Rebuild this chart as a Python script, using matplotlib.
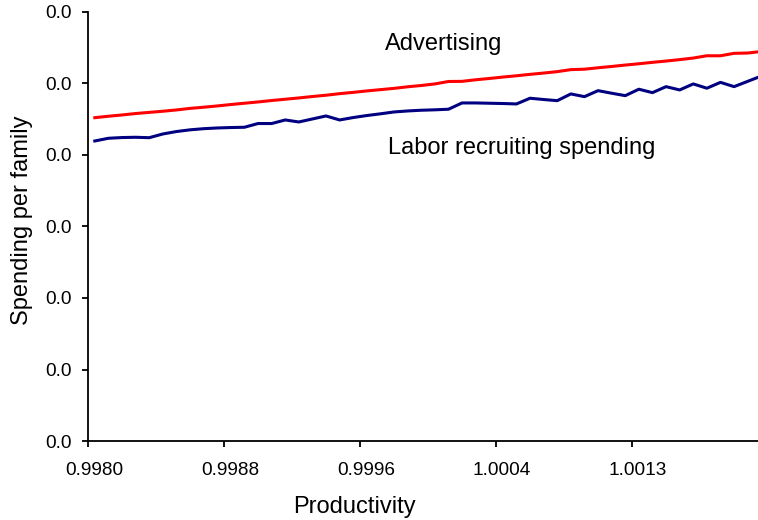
import matplotlib
matplotlib.use("Agg")
import matplotlib.pyplot as plt
from matplotlib.ticker import FormatStrFormatter
from matplotlib.transforms import ScaledTranslation

plt.rcParams['font.family'] = ['Liberation Sans', 'DejaVu Sans']

# x tick labels (every 10th category)
tick_labels = ['0.9980', '0.9988', '0.9996', '1.0004', '1.0013']

advertising = [
    0.02261, 0.02271, 0.02280, 0.02290, 0.02298, 0.02306, 0.02315, 0.02326, 0.02334, 0.02343,
    0.02353, 0.02362, 0.02371, 0.02381, 0.02390, 0.02399, 0.02409, 0.02418, 0.02429, 0.02438,
    0.02448, 0.02457, 0.02466, 0.02477, 0.02486, 0.02497, 0.02514, 0.02515, 0.02526, 0.02535,
    0.02545, 0.02554, 0.02564, 0.02573, 0.02583, 0.02597, 0.02600, 0.02610, 0.02619, 0.02629,
    0.02638, 0.02648, 0.02657, 0.02667, 0.02678, 0.02694, 0.02694, 0.02711, 0.02713, 0.02724,
]

recruiting = [
    0.02098, 0.02117, 0.02122, 0.02124, 0.02121, 0.02147, 0.02164, 0.02176, 0.02184, 0.02189,
    0.02192, 0.02194, 0.02220, 0.02220, 0.02245, 0.02231, 0.02252, 0.02273, 0.02245, 0.02262,
    0.02276, 0.02288, 0.02301, 0.02308, 0.02313, 0.02316, 0.02320, 0.02364, 0.02364, 0.02362,
    0.02360, 0.02357, 0.02397, 0.02388, 0.02380, 0.02427, 0.02408, 0.02450, 0.02432, 0.02415,
    0.02460, 0.02436, 0.02478, 0.02455, 0.02497, 0.02467, 0.02508, 0.02478, 0.02515, 0.02552,
]

xs = list(range(len(advertising)))

fig = plt.figure(figsize=(7.58, 5.2), dpi=100)
ax = fig.add_axes([88 / 758, 1 - 441 / 520, 1 - 88 / 758, 429 / 520])

ax.plot(xs, advertising, color='#FF0000', lw=2.2)
ax.plot(xs, recruiting, color='#000080', lw=2.2)

ax.set_xlim(-0.5, 48.76)
ax.set_ylim(0, 0.03)
ax.set_xticks([-0.5 + 10 * k for k in range(len(tick_labels))])
ax.set_xticklabels(tick_labels)
ax.set_yticks([0.005 * k for k in range(7)])
ax.yaxis.set_major_formatter(FormatStrFormatter('%.1f'))

for s in ['top', 'right']:
    ax.spines[s].set_visible(False)
for s in ['left', 'bottom']:
    ax.spines[s].set_linewidth(1.3)
ax.tick_params(axis='both', direction='out', length=4, width=1.3, labelsize=13.7)
ax.tick_params(axis='x', pad=11)
ax.tick_params(axis='y', pad=8)

# excel puts the category labels a little right of the tick
shift = ScaledTranslation(6 / 100, 0, fig.dpi_scale_trans)
for lbl in ax.get_xticklabels():
    lbl.set_transform(lbl.get_transform() + shift)

ax.set_xlabel('Productivity', fontsize=17)
ax.set_ylabel('Spending per family', fontsize=17)
ax.xaxis.set_label_coords((354 - 88) / 670, -(507 - 441) / 429)
ax.yaxis.set_label_coords(-(88 - 22) / 670, (441 - 220) / 429)
ax.xaxis.label.set_va('center')
ax.yaxis.label.set_va('center')

ax.text(21.3, 0.02776, 'Advertising', fontsize=17, va='center', ha='left')
ax.text(21.56, 0.02049, 'Labor recruiting spending', fontsize=17, va='center', ha='left')

fig.savefig('out.png', dpi=100)
